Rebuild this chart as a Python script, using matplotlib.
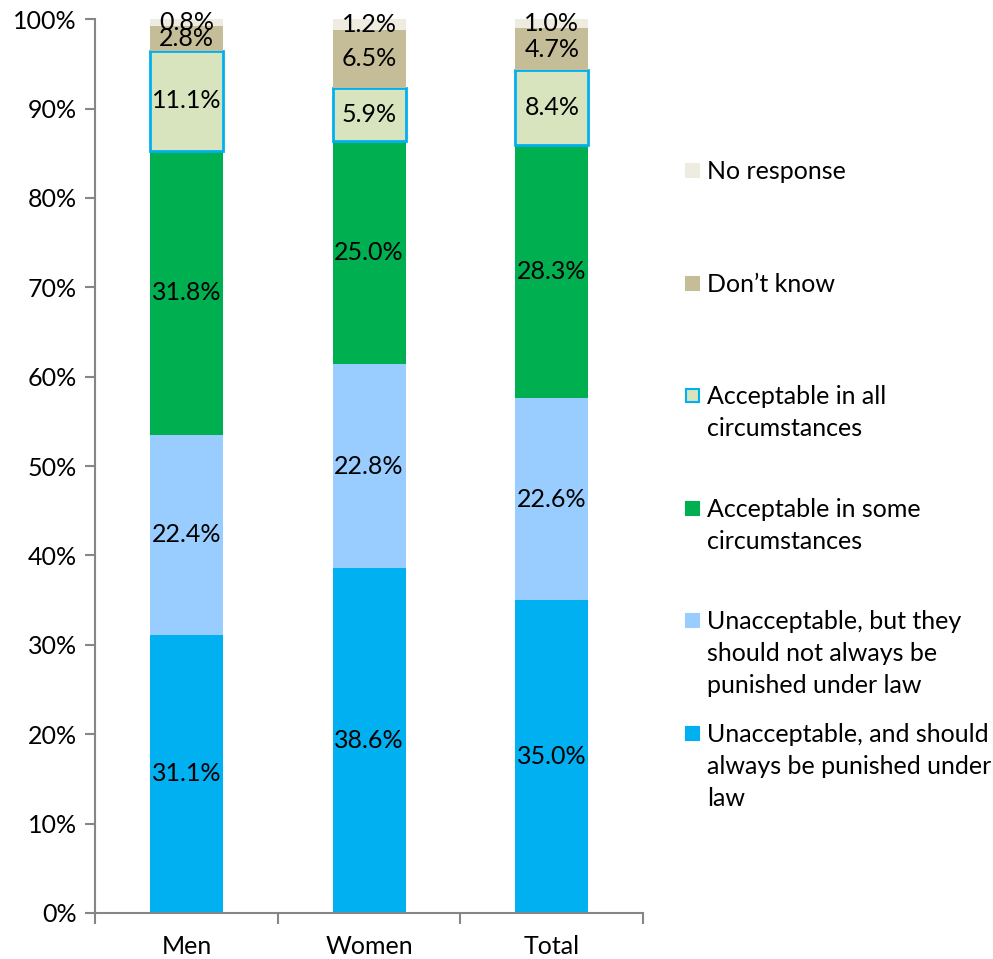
import numpy as np
import matplotlib.pyplot as plt
from matplotlib.patches import Rectangle

plt.rcParams['font.family'] = ['Lato', 'DejaVu Sans']

# Categorías y series (porcentajes)
groups = ['Men', 'Women', 'Total']
series = [
    'Unacceptable, and should\nalways be punished under\nlaw',
    'Unacceptable, but they\nshould not always be\npunished under law',
    'Acceptable in some\ncircumstances',
    'Acceptable in all\ncircumstances',
    'Don\u2019t know',
    'No response',
]
punished = [31.1, 38.6, 35.0]
not_punished = [22.4, 22.8, 22.6]
some_circ = [31.8, 25.0, 28.3]
all_circ = [11.1, 5.9, 8.4]
dont_know = [2.8, 6.5, 4.7]
no_response = [0.8, 1.2, 1.0]

values = [punished, not_punished, some_circ, all_circ, dont_know, no_response]
colors = ['#00B0F0', '#99CCFF', '#00B050', '#D7E4BD', '#C4BD97', '#EEECE1']
edges = [None, None, None, '#00B0F0', None, None]

FS = 18

fig = plt.figure(figsize=(9.93, 9.59), dpi=100)
ax = fig.add_axes([0.0957, 0.048, 0.552, 0.932])

x = np.arange(len(groups))
bottom = np.zeros(len(groups))
for vals, col, ec in zip(values, colors, edges):
    vals = np.array(vals)
    if ec:
        ax.bar(x, vals, 0.4, bottom=bottom, color=col, edgecolor=ec, linewidth=2)
    else:
        ax.bar(x, vals, 0.4, bottom=bottom, color=col, linewidth=0)
    for xi, b, v in zip(x, bottom, vals):
        ax.text(xi, b + v / 2, f'{v:.1f}%', ha='center', va='center',
                fontsize=FS, color='black')
    bottom += vals

# Ejes
ax.set_xlim(-0.5, 2.5)
ax.set_ylim(0, 100)
ax.set_yticks(np.arange(0, 101, 10))
ax.set_yticklabels([f'{t}%' for t in range(0, 101, 10)], fontsize=FS)
ax.set_xticks(x)
ax.set_xticklabels(groups, fontsize=FS)
ax.set_xticks([-0.5, 0.5, 1.5, 2.5], minor=True)
ax.tick_params(axis='x', which='major', length=0, pad=16)
ax.tick_params(axis='x', which='minor', length=8, color='#868686', width=1.5)
ax.tick_params(axis='y', length=7, color='#868686', width=1.5, pad=6)
for s in ['top', 'right']:
    ax.spines[s].set_visible(False)
for s in ['left', 'bottom']:
    ax.spines[s].set_color('#868686')
    ax.spines[s].set_linewidth(1.5)

# Leyenda dibujada a mano (de arriba abajo)
W, H = 993, 959
for i, idx in enumerate(range(5, -1, -1)):
    yc = 170 + i * 112.6
    ec = edges[idx] if edges[idx] else colors[idx]
    fig.patches.append(Rectangle((686 / W, 1 - (yc + 7) / H), 13 / W, 13 / H,
                                 transform=fig.transFigure, facecolor=colors[idx],
                                 edgecolor=ec, linewidth=1.5))
    fig.text(707 / W, 1 - (yc - 10) / H, series[idx], fontsize=FS,
             va='top', ha='left', linespacing=1.47)

fig.savefig('out.png', dpi=100)
